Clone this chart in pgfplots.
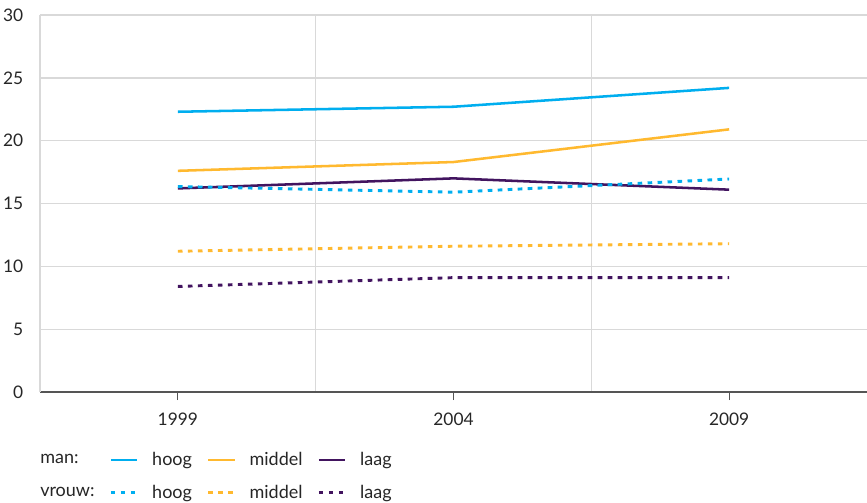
\documentclass[border=0pt]{standalone}
\usepackage{pgfplots}
\pgfplotsset{compat=1.18}
\usepackage{fontspec}
\setmainfont{Lato}
\definecolor{hoog}{HTML}{00AEEF}
\definecolor{middel}{HTML}{FFB92F}
\definecolor{laag}{HTML}{42145F}
\definecolor{gridc}{HTML}{D9D9D9}
\definecolor{axdark}{HTML}{555555}
\begin{document}
\begin{tikzpicture}
\useasboundingbox (-30pt,-83.25pt) rectangle (620.25pt,294pt);
\begin{axis}[
  at={(0pt,0pt)}, anchor=south west,
  scale only axis, width=620.25pt, height=282.75pt,
  xmin=-0.5, xmax=2.5, ymin=0, ymax=30,
  xtick={0,1,2}, xticklabels={1999,2004,2009},
  minor xtick={0.5,1.5}, xminorgrids=true,
  ytick={0,5,...,30}, ymajorgrids=true,
  grid style={draw=gridc, line width=1pt},
  minor grid style={draw=gridc, line width=1pt},
  axis x line*=bottom, axis y line*=left,
  x axis line style={draw=axdark, line width=1.4pt, -},
  y axis line style={draw=gridc, line width=1pt, -},
  ytick style={draw=none},
  xtick style={draw=axdark, line width=0.8pt},
  tick align=outside, major tick length=6pt, minor tick length=0pt,
  /pgf/number format/assume math mode=true,
  tick label style={font=\fontsize{13}{15}\selectfont, text=black!85},
  yticklabel style={xshift=-3pt},
  xticklabel style={yshift=-6pt},
  clip=false,
  legend columns=4,
  legend cell align=left,
  legend style={at={(rel axis cs:0,0)}, anchor=north west, xshift=-2pt, yshift=-43pt,
    draw=none, fill=none, inner sep=0pt, row sep=9pt,
    font=\fontsize{13.5}{15}\selectfont, text=black!85,
    /tikz/every even column/.append style={column sep=9pt}},
  legend image code/.code={\draw[#1] (0pt,0pt) -- (20pt,0pt); \path (28pt,0pt);},
]
\addlegendimage{empty legend}
\addlegendentry{man:}
\addplot[hoog, line width=1.9pt] coordinates {(0,22.3) (1,22.7) (2,24.2)};
\addlegendentry{hoog}
\addplot[middel, line width=1.9pt] coordinates {(0,17.6) (1,18.3) (2,20.9)};
\addlegendentry{middel}
\addplot[laag, line width=1.9pt] coordinates {(0,16.2) (1,17.0) (2,16.1)};
\addlegendentry{laag}
\addlegendimage{empty legend}
\addlegendentry{vrouw:}
\addplot[hoog, line width=2.2pt, dash pattern=on 3.5pt off 4pt] coordinates {(0,16.35) (1,15.9) (2,16.95)};
\addlegendentry{hoog}
\addplot[middel, line width=2.2pt, dash pattern=on 3.5pt off 4pt] coordinates {(0,11.2) (1,11.6) (2,11.8)};
\addlegendentry{middel}
\addplot[laag, line width=2.2pt, dash pattern=on 3.5pt off 4pt] coordinates {(0,8.4) (1,9.1) (2,9.1)};
\addlegendentry{laag}
\end{axis}
\end{tikzpicture}
\end{document}
